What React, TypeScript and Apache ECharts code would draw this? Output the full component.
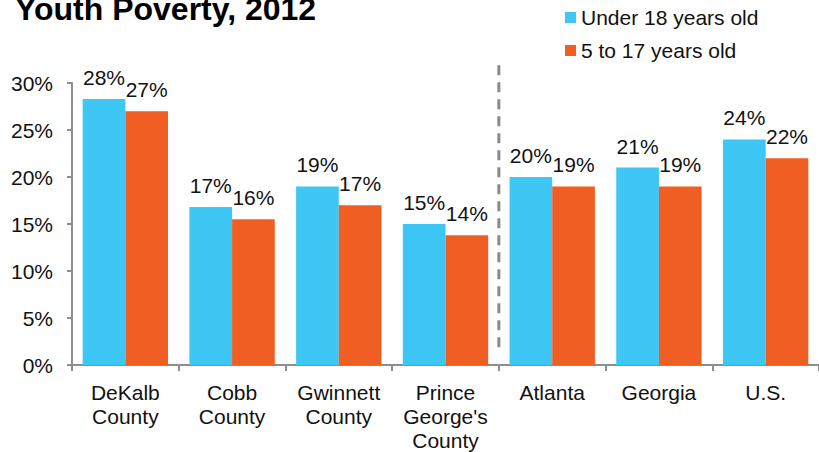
import React, { useEffect, useRef } from "react";
import * as echarts from "echarts";

const categories = [
  "DeKalb\nCounty",
  "Cobb\nCounty",
  "Gwinnett\nCounty",
  "Prince\nGeorge's\nCounty",
  "Atlanta",
  "Georgia",
  "U.S.",
];
const under18 = [28.3, 16.8, 19.0, 15.0, 20.0, 21.0, 24.0];
const age5to17 = [27.0, 15.5, 17.0, 13.8, 19.0, 19.0, 22.0];
const seriesNames = ["Under 18 years old", "5 to 17 years old"];
const yTicks = { min: 0, max: 30, interval: 5 };
const dividerAfterIndex = 3;

const FONT = "'Liberation Sans', Arial, sans-serif";
const CYAN = "#3EC7F4";
const ORANGE = "#F15E24";
const AXIS = "#8E8E8E";

export default function App() {
  const ref = useRef<HTMLDivElement>(null);
  useEffect(() => {
    if (!ref.current) return;
    const chart = echarts.init(ref.current, undefined, { renderer: "svg" });
    const labelStyle = {
      show: true,
      position: "top" as const,
      distance: 11,
      fontSize: 21,
      color: "#111",
      fontFamily: FONT,
      formatter: (p: any) => Math.round(p.value) + "%",
    };
    chart.setOption({
      animation: false,
      textStyle: { fontFamily: FONT },
      title: {
        text: "Youth Poverty, 2012",
        left: 15,
        top: -7,
        padding: 0,
        textStyle: { fontSize: 32, fontWeight: "bold", color: "#000", fontFamily: FONT },
      },
      legend: {
        orient: "vertical",
        left: 565,
        top: 7,
        padding: 0,
        itemWidth: 11,
        itemHeight: 11,
        itemGap: 12,
        icon: "rect",
        textStyle: { fontSize: 21, color: "#111", fontFamily: FONT },
        data: seriesNames,
      },
      grid: { left: 72, right: -5, top: 83, bottom: 87, containLabel: false },
      xAxis: {
        type: "category",
        data: categories,
        axisLine: { lineStyle: { color: AXIS, width: 2 } },
        axisTick: { show: true, length: 6, lineStyle: { color: AXIS, width: 2 } },
        axisLabel: {
          interval: 0,
          fontSize: 21,
          lineHeight: 24,
          margin: 15,
          color: "#111",
          fontFamily: FONT,
        },
      },
      yAxis: {
        type: "value",
        min: yTicks.min,
        max: yTicks.max,
        interval: yTicks.interval,
        splitLine: { show: false },
        axisLine: { show: true, lineStyle: { color: AXIS, width: 2 } },
        axisTick: { show: true, length: 5, lineStyle: { color: AXIS, width: 2 } },
        axisLabel: {
          formatter: "{value}%",
          fontSize: 21,
          margin: 19,
          color: "#111",
          fontFamily: FONT,
        },
      },
      series: [
        {
          name: seriesNames[0],
          type: "bar",
          data: under18,
          barGap: "0%",
          barCategoryGap: "20%",
          itemStyle: { color: CYAN },
          label: labelStyle,
        },
        {
          name: seriesNames[1],
          type: "bar",
          data: age5to17,
          barGap: "0%",
          barCategoryGap: "20%",
          itemStyle: { color: ORANGE },
          label: labelStyle,
        },
      ],
    });
    const xa = chart.convertToPixel({ xAxisIndex: 0 }, categories[dividerAfterIndex]) as number;
    const xb = chart.convertToPixel({ xAxisIndex: 0 }, categories[dividerAfterIndex + 1]) as number;
    const yTop = chart.convertToPixel({ yAxisIndex: 0 }, 31.9) as number;
    const yBot = chart.convertToPixel({ yAxisIndex: 0 }, 1.3) as number;
    const xd = (xa + xb) / 2;
    chart.setOption({
      graphic: [
        {
          type: "line",
          shape: { x1: xd, y1: yTop, x2: xd, y2: yBot },
          style: { stroke: "#8A8A8A", lineWidth: 3, lineDash: [10, 7] },
          silent: true,
        },
      ],
    });
    return () => chart.dispose();
  }, []);
  return (
    <div
      ref={ref}
      style={{ position: "fixed", left: 0, top: 0, width: 819, height: 452, background: "#fff" }}
    />
  );
}
